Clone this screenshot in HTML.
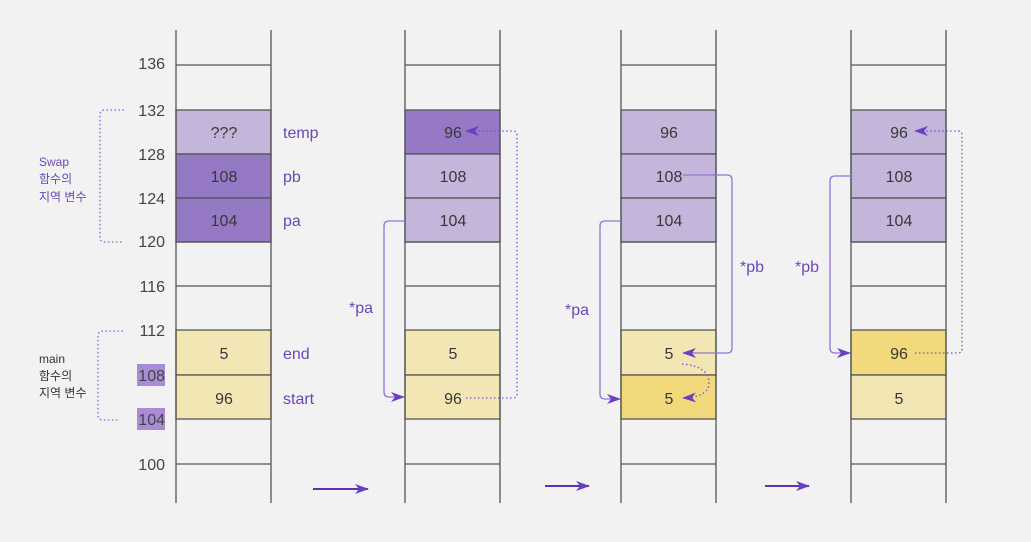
<!DOCTYPE html>
<html><head><meta charset="utf-8"><style>
html,body{margin:0;padding:0;background:#f2f2f2;}
svg{display:block;font-family:"Liberation Sans","Noto Sans CJK KR",sans-serif;}
</style></head><body>
<svg width="1031" height="542" viewBox="0 0 1031 542" xmlns="http://www.w3.org/2000/svg">
<defs>
<marker id="ah" markerWidth="14" markerHeight="10" refX="13" refY="5" orient="auto" markerUnits="userSpaceOnUse">
<path d="M0,0 L14,5 L0,10 L4,5 Z" fill="#6a3fc0"/></marker>
</defs>
<rect width="1031" height="542" fill="#f2f2f2"/>
<g id="cells" stroke="#555" stroke-width="1.3">
<rect x="176" y="110" width="95" height="44" fill="#c3b6da"/>
<rect x="176" y="154" width="95" height="44" fill="#9579c4"/>
<rect x="176" y="198" width="95" height="44" fill="#9579c4"/>
<rect x="176" y="330" width="95" height="45" fill="#f2e6b5"/>
<rect x="176" y="375" width="95" height="44" fill="#f2e6b5"/>
<rect x="405" y="110" width="95" height="44" fill="#9579c4"/>
<rect x="405" y="154" width="95" height="44" fill="#c3b6da"/>
<rect x="405" y="198" width="95" height="44" fill="#c3b6da"/>
<rect x="405" y="330" width="95" height="45" fill="#f2e6b5"/>
<rect x="405" y="375" width="95" height="44" fill="#f2e6b5"/>
<rect x="621" y="110" width="95" height="44" fill="#c3b6da"/>
<rect x="621" y="154" width="95" height="44" fill="#c3b6da"/>
<rect x="621" y="198" width="95" height="44" fill="#c3b6da"/>
<rect x="621" y="330" width="95" height="45" fill="#f2e6b5"/>
<rect x="621" y="375" width="95" height="44" fill="#f2d97c"/>
<rect x="851" y="110" width="95" height="44" fill="#c3b6da"/>
<rect x="851" y="154" width="95" height="44" fill="#c3b6da"/>
<rect x="851" y="198" width="95" height="44" fill="#c3b6da"/>
<rect x="851" y="330" width="95" height="45" fill="#f2d97c"/>
<rect x="851" y="375" width="95" height="44" fill="#f2e6b5"/>
</g>
<g stroke="#555" stroke-width="1.3">
<line x1="176" y1="30" x2="176" y2="503"/><line x1="271" y1="30" x2="271" y2="503"/>
<line x1="405" y1="30" x2="405" y2="503"/><line x1="500" y1="30" x2="500" y2="503"/>
<line x1="621" y1="30" x2="621" y2="503"/><line x1="716" y1="30" x2="716" y2="503"/>
<line x1="851" y1="30" x2="851" y2="503"/><line x1="946" y1="30" x2="946" y2="503"/>
<line x1="176" x2="271" y1="65" y2="65"/><line x1="176" x2="271" y1="286" y2="286"/><line x1="176" x2="271" y1="242" y2="242"/><line x1="176" x2="271" y1="464" y2="464"/>
<line x1="405" x2="500" y1="65" y2="65"/><line x1="405" x2="500" y1="286" y2="286"/><line x1="405" x2="500" y1="242" y2="242"/><line x1="405" x2="500" y1="464" y2="464"/>
<line x1="621" x2="716" y1="65" y2="65"/><line x1="621" x2="716" y1="286" y2="286"/><line x1="621" x2="716" y1="242" y2="242"/><line x1="621" x2="716" y1="464" y2="464"/>
<line x1="851" x2="946" y1="65" y2="65"/><line x1="851" x2="946" y1="286" y2="286"/><line x1="851" x2="946" y1="242" y2="242"/><line x1="851" x2="946" y1="464" y2="464"/>
</g>
<rect x="137" y="364" width="28" height="22" fill="#a98bd6"/>
<rect x="137" y="408" width="28" height="22" fill="#a98bd6"/>
<g font-size="16" fill="#444" text-anchor="end">
<text x="165" y="69">136</text><text x="165" y="116">132</text><text x="165" y="160">128</text>
<text x="165" y="204">124</text><text x="165" y="247">120</text><text x="165" y="292">116</text>
<text x="165" y="336">112</text><text x="165" y="381">108</text><text x="165" y="425">104</text>
<text x="165" y="470">100</text>
</g>
<g font-size="16" fill="#383838" text-anchor="middle">
<text x="224" y="138">???</text><text x="224" y="182">108</text><text x="224" y="226">104</text>
<text x="224" y="359">5</text><text x="224" y="404">96</text>
<text x="453" y="138">96</text><text x="453" y="182">108</text><text x="453" y="226">104</text>
<text x="453" y="359">5</text><text x="453" y="404">96</text>
<text x="669" y="138">96</text><text x="669" y="182">108</text><text x="669" y="226">104</text>
<text x="669" y="359">5</text><text x="669" y="404">5</text>
<text x="899" y="138">96</text><text x="899" y="182">108</text><text x="899" y="226">104</text>
<text x="899" y="359">96</text><text x="899" y="404">5</text>
</g>
<g font-size="16" fill="#6a48b8">
<text x="283" y="138">temp</text><text x="283" y="182">pb</text><text x="283" y="226">pa</text>
<text x="283" y="359">end</text><text x="283" y="404">start</text>
<text x="349" y="313">*pa</text><text x="565" y="315">*pa</text>
<text x="740" y="272">*pb</text><text x="795" y="272">*pb</text>
</g>
<g font-size="12">
<text x="39" y="166" fill="#6a48b8">Swap</text>
<text x="39" y="183" fill="#6a48b8">함수의</text>
<text x="39" y="201" fill="#6a48b8">지역 변수</text>
<text x="39" y="363" fill="#333">main</text>
<text x="39" y="380" fill="#333">함수의</text>
<text x="39" y="397" fill="#333">지역 변수</text>
</g>
<g fill="none" stroke="#8a5fd0" stroke-width="1.3" stroke-dasharray="1.5,2.5">
<path d="M124,110 H105 Q100,110 100,115 V237 Q100,242 105,242 H122"/>
<path d="M123,331 H103 Q98,331 98,336 V415 Q98,420 103,420 H120"/>
</g>
<g fill="none" stroke="#9373d2" stroke-width="1.3">
<path d="M405,221 H389 Q384,221 384,226 V392 Q384,397 389,397 H404" marker-end="url(#ah)"/>
<path d="M621,221 H605 Q600,221 600,226 V394 Q600,399 605,399 H620" marker-end="url(#ah)"/>
<path d="M683,175 H727 Q732,175 732,180 V348 Q732,353 727,353 H683" marker-end="url(#ah)"/>
<path d="M851,176 H835 Q830,176 830,181 V348 Q830,353 835,353 H850" marker-end="url(#ah)"/>
</g>
<g fill="none" stroke="#7a4fd0" stroke-width="1.3" stroke-dasharray="1.5,2.5">
<path d="M466,398 H513 Q517,398 517,394 V135 Q517,131 513,131 H466" marker-end="url(#ah)"/>
<path d="M682,364 Q710,366 709,385 Q707,397 683,398" marker-end="url(#ah)"/>
<path d="M915,353 H958 Q962,353 962,349 V135 Q962,131 958,131 H915" marker-end="url(#ah)"/>
</g>
<g stroke="#5b35b8" stroke-width="2" fill="none">
<line x1="313" y1="489" x2="368" y2="489" marker-end="url(#ah)"/>
<line x1="545" y1="486" x2="589" y2="486" marker-end="url(#ah)"/>
<line x1="765" y1="486" x2="809" y2="486" marker-end="url(#ah)"/>
</g>
</svg>
</body></html>
